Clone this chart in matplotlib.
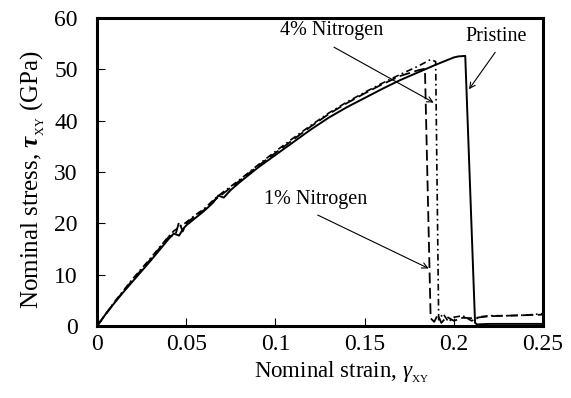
from matplotlib import pyplot as plt
import numpy as np

# Pristine (solid)
strain_p = [0, 0.005, 0.01, 0.015, 0.02, 0.025, 0.03, 0.035, 0.04, 0.043, 0.046, 0.048, 0.05,
            0.055, 0.06, 0.065, 0.068, 0.071, 0.075, 0.08, 0.09, 0.1, 0.11, 0.12, 0.13, 0.14,
            0.15, 0.16, 0.17, 0.18, 0.19, 0.2, 0.2025, 0.2064, 0.2119, 0.213, 0.22, 0.23, 0.24, 0.25]
stress_p = [0, 2.4, 4.6, 6.7, 8.7, 10.7, 12.7, 14.8, 16.9, 18.0, 17.6, 18.8, 19.6,
            21.0, 22.4, 24.0, 25.4, 25.0, 26.5, 28.0, 30.8, 33.3, 35.8, 38.3, 40.6, 42.6,
            44.4, 46.2, 47.9, 49.4, 50.9, 52.3, 52.5, 52.6, 0.6, 0.3, 0.4, 0.4, 0.4, 0.4]

# 1% Nitrogen (dashed)
strain_1 = [0, 0.01, 0.02, 0.025, 0.03, 0.04, 0.044, 0.046, 0.048, 0.05, 0.055, 0.06, 0.065,
            0.07, 0.08, 0.09, 0.1, 0.11, 0.12, 0.13, 0.14, 0.15, 0.16, 0.17, 0.18, 0.1838,
            0.187, 0.189, 0.191, 0.193, 0.196, 0.2, 0.205, 0.21, 0.22, 0.23, 0.24, 0.25]
stress_1 = [0, 4.7, 9.0, 11.0, 13.0, 17.3, 17.8, 20.3, 18.4, 20.0, 21.4, 22.6, 24.3,
            25.6, 28.3, 31.1, 33.7, 36.3, 38.9, 41.3, 43.4, 45.3, 47.1, 48.7, 49.8, 50.1,
            1.5, 0.8, 2.2, 0.6, 1.8, 1.0, 1.6, 1.5, 1.9, 2.0, 2.1, 2.2]

# 4% Nitrogen (dash-dot)
strain_4 = [0, 0.01, 0.02, 0.03, 0.04, 0.043, 0.05, 0.055, 0.06, 0.066, 0.07, 0.08, 0.09,
            0.1, 0.11, 0.12, 0.13, 0.14, 0.15, 0.16, 0.17, 0.18, 0.187, 0.1898, 0.1915, 0.194,
            0.197, 0.2, 0.205, 0.21, 0.215, 0.22, 0.23, 0.24, 0.25]
stress_4 = [0, 4.8, 9.2, 13.2, 17.4, 18.5, 20.2, 21.6, 22.8, 24.8, 25.9, 28.5, 31.3,
            34.0, 36.6, 39.1, 41.5, 43.6, 45.5, 47.3, 49.0, 50.6, 51.9, 51.5, 1.2, 2.4,
            0.8, 1.7, 2.0, 1.0, 1.8, 2.0, 2.0, 2.1, 2.4]

x_ticks = [0, 0.05, 0.1, 0.15, 0.2, 0.25]
x_ticklabels = ['0', '0.05', '0.1', '0.15', '0.2', '0.25']
y_ticks = [0, 10, 20, 30, 40, 50, 60]

plt.rcParams['font.family'] = ['Liberation Serif', 'DejaVu Serif']
plt.rcParams['mathtext.fontset'] = 'custom'
plt.rcParams['mathtext.rm'] = 'Liberation Serif'
plt.rcParams['mathtext.it'] = 'Liberation Serif:italic'
plt.rcParams['mathtext.bf'] = 'Liberation Serif:bold'
plt.rcParams['mathtext.bfit'] = 'Liberation Serif:italic:bold'

tick_size = 17
xlabel_size = 16.5
ylabel_size = 18
note_size = 14.5

f = plt.figure(figsize=(5.71, 3.98), dpi=100)
ax = f.add_axes([0.170, 0.181, 0.781, 0.774])

ax.plot(strain_p, stress_p, color='black', linewidth=1.4, linestyle='solid')
ax.plot(strain_1, stress_1, color='black', linewidth=1.3, linestyle=(0, (6, 2.5)))
ax.plot(strain_4, stress_4, color='black', linewidth=1.2, linestyle=(0, (4, 2, 1, 2)))

ax.set_xlim(0, 0.25)
ax.set_ylim(0, 60)
ax.set_xticks(x_ticks)
ax.set_xticklabels(x_ticklabels)
ax.set_yticks(y_ticks)
ax.tick_params(axis='both', direction='in', length=6, width=0.8, labelsize=tick_size)
ax.tick_params(axis='x', pad=6)
ax.tick_params(axis='y', pad=14)

for axis in ['top', 'bottom', 'left', 'right']:
    ax.spines[axis].set_linewidth(2.2)

# small subscripts, as in the original figure
ax.set_xlabel(r'Nominal strain, $\mathit{\gamma}_{{}_{\rm XY}}$', fontsize=xlabel_size)
ax.set_ylabel(r'Nominal stress, $\mathbfit{\tau}_{{}_{\rm XY}}$ (GPa)', fontsize=ylabel_size)
ax.xaxis.set_label_coords(0.547, -0.107)
ax.yaxis.set_label_coords(-0.112, 0.474)

arrow = dict(arrowstyle='->', color='black', lw=0.8, shrinkA=0, shrinkB=0)
ax.annotate('', xy=(0.1887, 43.5), xytext=(0.1328, 54.3), arrowprops=arrow)
ax.text(0.1316, 57.5, '4% Nitrogen', ha='center', va='center', fontsize=note_size)
ax.annotate('', xy=(0.1859, 11.2), xytext=(0.1237, 21.6), arrowprops=arrow)
ax.text(0.1226, 24.7, '1% Nitrogen', ha='center', va='center', fontsize=note_size)
ax.annotate('', xy=(0.2085, 46.1), xytext=(0.2232, 53.3), arrowprops=arrow)
ax.text(0.2237, 56.3, 'Pristine', ha='center', va='center', fontsize=note_size)

f.savefig('out.png', dpi=100)
